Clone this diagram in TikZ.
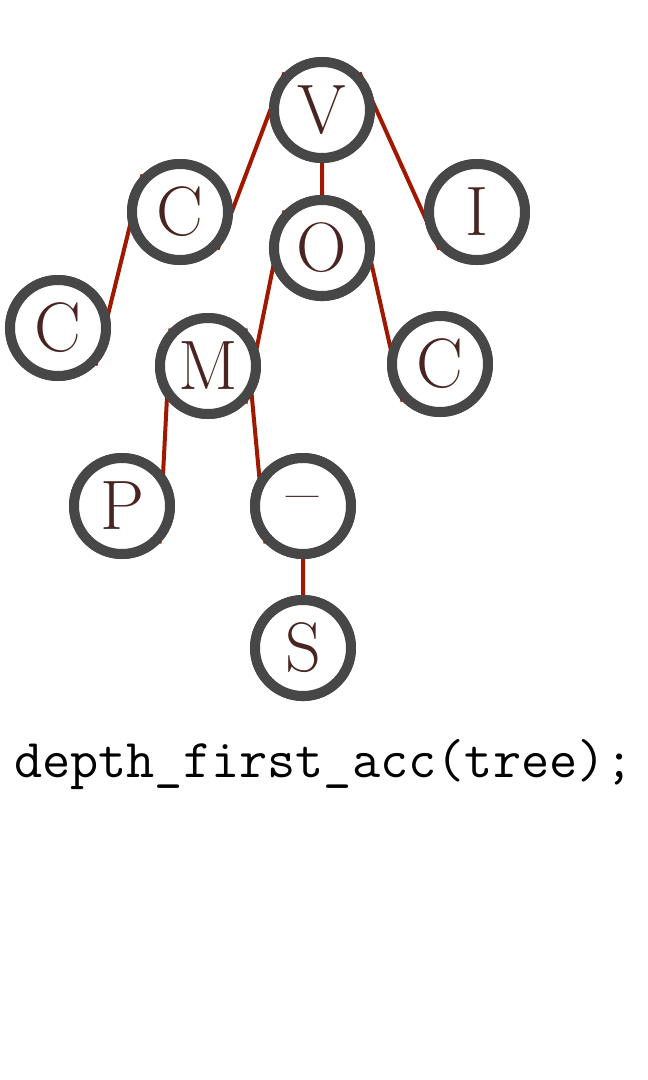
\documentclass[tikz,border=0pt]{standalone}
\begin{document}
\begin{tikzpicture}[x=1pt,y=-1pt,
  tn/.style={circle,fill=white,draw=black!72,line width=10pt,minimum size=96pt,inner sep=0pt,
    text=txt,font=\fontsize{70}{72}\selectfont},
  ed/.style={draw=edg,line width=4pt}]
\definecolor{txt}{HTML}{4A2420}
\definecolor{edg}{HTML}{A01800}
\useasboundingbox (0,0) rectangle (648,1080);
\node[tn] (V) at (322,110) {V};
\node[tn] (C1) at (180,212) {C};
\node[tn] (I) at (477,212) {I};
\node[tn] (O) at (322,248) {O};
\node[tn] (C2) at (58,328) {C};
\node[tn] (M) at (208,366) {M};
\node[tn] (C3) at (440,364) {C};
\node[tn] (P) at (122,506) {P};
\node[tn] (D) at (303,506) {--};
\node[tn] (S) at (303,648) {S};
\path[ed] (V.135) -- (C1.-45) (V.90) -- (O.-90) (V.45) -- (I.-135) (C1.135) -- (C2.-45)
  (O.135) -- (M.-45) (O.45) -- (C3.-135)
  (M.135) -- (P.-45) (M.45) -- (D.-135) (D.90) -- (S.-90);
\foreach \n/\t in {V/V,C1/C,I/I,O/O,C2/C,M/M,C3/C,P/P,D/--,S/S}
  \node[tn] at (\n) {\t};
\node[font=\fontsize{54.7}{60}\selectfont\ttfamily,inner sep=0pt] (code) at (324,765) {depth\_first\_acc(tree);};
\end{tikzpicture}
\end{document}
